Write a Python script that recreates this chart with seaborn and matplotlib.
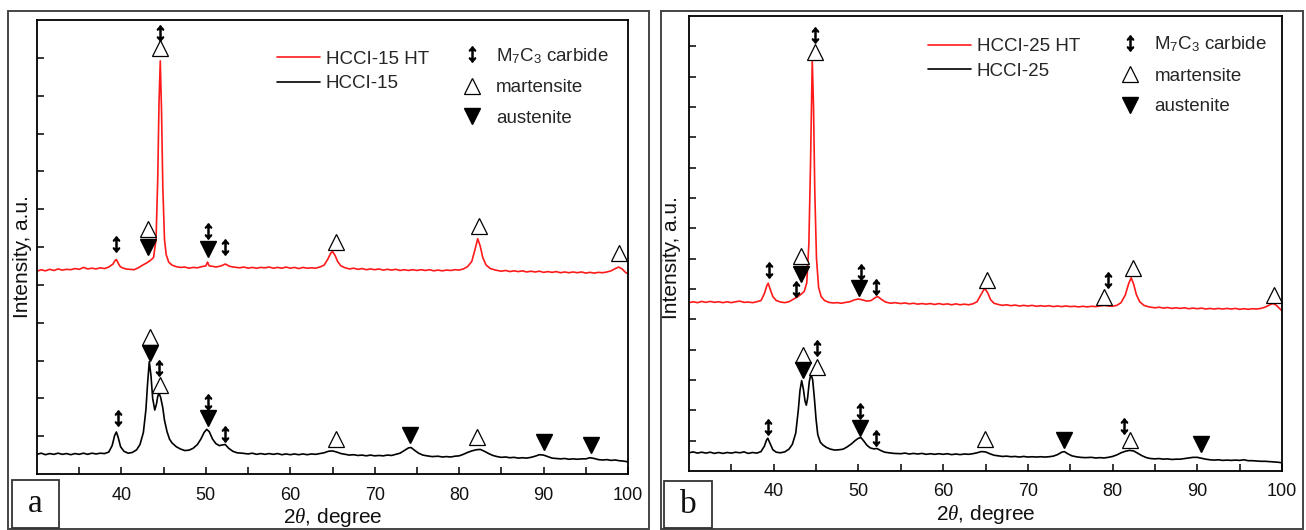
import matplotlib
matplotlib.use("Agg")
import matplotlib.pyplot as plt
import seaborn as sns
import pandas as pd
from matplotlib.lines import Line2D
from matplotlib.patches import Rectangle

# ---------------- data ----------------
a_ht_x = [30, 30.5, 31, 31.5, 32, 32.5, 33, 33.5, 34, 34.5, 35, 35.5, 36, 36.5, 37, 37.5, 38, 38.5,
          39.0, 39.2, 39.4, 39.6, 39.8, 40.0, 40.5, 41.0, 41.5, 42.0, 42.5, 43.0, 43.4, 43.8, 44.1,
          44.3, 44.45, 44.6, 44.75, 44.9, 45.1, 45.3, 45.6, 46.0, 46.5, 47, 47.5, 48, 48.5, 49, 49.5,
          50.0, 50.2, 50.4, 50.8, 51.2, 51.8, 52.3, 52.8, 53.3, 54, 54.5, 55, 55.5, 56, 56.5, 57, 57.5,
          58, 58.5, 59, 59.5, 60, 60.5, 61, 61.5, 62, 62.5, 63, 63.5, 64.0, 64.4, 64.8, 65.0, 65.3,
          65.6, 66.0, 66.5, 67, 67.5, 68, 68.5, 69, 69.5, 70, 70.5, 71, 71.5, 72, 72.5, 73, 73.5, 74,
          74.5, 75, 75.5, 76, 76.5, 77, 77.5, 78, 78.5, 79, 79.5, 80, 80.5, 81.0, 81.5, 81.9, 82.2,
          82.5, 82.8, 83.2, 83.7, 84.3, 85, 85.5, 86, 86.5, 87, 87.5, 88, 88.5, 89, 89.5, 90, 90.5,
          91, 91.5, 92, 92.5, 93, 93.5, 94, 94.5, 95, 95.5, 96, 96.5, 97, 97.5, 98.0, 98.5, 98.9,
          99.3, 99.7, 100]
a_ht_y = [5.36, 5.40, 5.37, 5.41, 5.38, 5.42, 5.39, 5.41, 5.40, 5.43, 5.41, 5.46, 5.42, 5.44, 5.42,
          5.45, 5.43, 5.47, 5.55, 5.63, 5.67, 5.58, 5.50, 5.46, 5.42, 5.41, 5.40, 5.45, 5.52, 5.58,
          5.64, 5.72, 6.2, 7.8, 9.8, 10.92, 9.6, 7.6, 6.2, 5.8, 5.6, 5.52, 5.48, 5.46, 5.47, 5.44,
          5.46, 5.45, 5.48, 5.50, 5.60, 5.50, 5.49, 5.47, 5.50, 5.55, 5.49, 5.47, 5.45, 5.47, 5.44,
          5.46, 5.44, 5.46, 5.45, 5.47, 5.44, 5.46, 5.44, 5.47, 5.44, 5.46, 5.43, 5.46, 5.44, 5.45,
          5.44, 5.47, 5.52, 5.66, 5.84, 5.88, 5.78, 5.62, 5.50, 5.45, 5.42, 5.44, 5.41, 5.43, 5.40,
          5.42, 5.40, 5.42, 5.39, 5.41, 5.39, 5.41, 5.38, 5.40, 5.38, 5.40, 5.38, 5.40, 5.38, 5.40,
          5.37, 5.39, 5.37, 5.39, 5.38, 5.40, 5.39, 5.42, 5.48, 5.62, 5.95, 6.22, 6.02, 5.72, 5.52,
          5.43, 5.39, 5.36, 5.38, 5.35, 5.37, 5.35, 5.37, 5.34, 5.36, 5.34, 5.36, 5.33, 5.35, 5.33,
          5.35, 5.32, 5.34, 5.32, 5.34, 5.32, 5.34, 5.31, 5.33, 5.31, 5.33, 5.32, 5.34, 5.37, 5.43,
          5.47, 5.42, 5.33, 5.29]

a_as_x = [30, 30.5, 31, 31.5, 32, 32.5, 33, 33.5, 34, 34.5, 35, 35.5, 36, 36.5, 37, 37.5, 38, 38.5,
          38.9, 39.2, 39.4, 39.6, 39.9, 40.3, 40.8, 41.3, 41.8, 42.2, 42.6, 42.9, 43.1, 43.3, 43.5,
          43.7, 43.95, 44.15, 44.3, 44.45, 44.65, 44.9, 45.1, 45.4, 45.7, 46.0, 46.5, 47, 47.5, 48,
          48.5, 49.0, 49.4, 49.8, 50.1, 50.4, 50.8, 51.2, 51.6, 52.0, 52.3, 52.7, 53.2, 53.7, 54.3,
          55, 55.5, 56, 56.5, 57, 57.5, 58, 58.5, 59, 59.5, 60, 60.5, 61, 61.5, 62, 62.5, 63, 63.5,
          64, 64.5, 65, 65.5, 66, 66.5, 67, 67.5, 68, 68.5, 69, 69.5, 70, 70.5, 71, 71.5, 72, 72.5,
          73, 73.5, 74.0, 74.3, 74.7, 75.2, 75.7, 76.2, 76.8, 77.5, 78, 78.5, 79, 79.5, 80, 80.5,
          81, 81.5, 82, 82.5, 83, 83.5, 84, 84.5, 85, 85.5, 86, 86.5, 87, 87.5, 88, 88.5, 89, 89.5,
          90, 90.5, 91, 91.5, 92, 92.5, 93, 93.5, 94, 94.5, 95, 95.5, 96, 96.5, 97, 97.5, 98, 98.5,
          99, 99.5, 100]
a_as_y = [0.52, 0.55, 0.51, 0.54, 0.52, 0.55, 0.52, 0.54, 0.51, 0.54, 0.52, 0.55, 0.52, 0.55, 0.53,
          0.55, 0.54, 0.58, 0.75, 1.02, 1.11, 0.98, 0.72, 0.60, 0.55, 0.57, 0.64, 0.78, 1.1, 1.7,
          2.4, 2.97, 2.6, 2.0, 1.69, 1.85, 2.05, 2.14, 2.02, 1.75, 1.42, 1.12, 0.92, 0.82, 0.72, 0.66,
          0.62, 0.63, 0.68, 0.78, 0.92, 1.10, 1.18, 1.12, 0.92, 0.80, 0.75, 0.77, 0.78, 0.68, 0.60,
          0.56, 0.55, 0.53, 0.55, 0.52, 0.54, 0.52, 0.54, 0.52, 0.54, 0.51, 0.53, 0.51, 0.53, 0.51,
          0.53, 0.51, 0.53, 0.52, 0.54, 0.56, 0.60, 0.61, 0.58, 0.54, 0.52, 0.50, 0.51, 0.49, 0.50,
          0.48, 0.50, 0.48, 0.49, 0.48, 0.50, 0.49, 0.52, 0.55, 0.62, 0.69, 0.70, 0.63, 0.55, 0.50,
          0.48, 0.46, 0.47, 0.45, 0.46, 0.45, 0.47, 0.48, 0.52, 0.57, 0.61, 0.64, 0.65, 0.60, 0.54,
          0.49, 0.46, 0.44, 0.45, 0.43, 0.44, 0.42, 0.43, 0.42, 0.44, 0.47, 0.51, 0.50, 0.46, 0.42,
          0.41, 0.40, 0.41, 0.39, 0.40, 0.39, 0.40, 0.40, 0.43, 0.41, 0.38, 0.37, 0.38, 0.36, 0.37,
          0.35, 0.34, 0.32]

b_ht_x = [30, 30.5, 31, 31.5, 32, 32.5, 33, 33.5, 34, 34.5, 35, 35.5, 36, 36.5, 37, 37.5, 38, 38.5,
          38.9, 39.2, 39.35, 39.6, 39.9, 40.3, 40.8, 41.3, 41.8, 42.3, 42.8, 43.2, 43.6, 43.9, 44.15,
          44.35, 44.55, 44.7, 44.85, 45.05, 45.3, 45.6, 46.0, 46.5, 47, 47.5, 48, 48.5, 49, 49.5,
          50.0, 50.5, 51.0, 51.5, 52.0, 52.3, 52.7, 53.2, 53.8, 54.3, 55, 55.5, 56, 56.5, 57, 57.5,
          58, 58.5, 59, 59.5, 60, 60.5, 61, 61.5, 62, 62.5, 63, 63.5, 64.0, 64.4, 64.8, 65.0, 65.3,
          65.6, 66.0, 66.5, 67, 67.5, 68, 68.5, 69, 69.5, 70, 70.5, 71, 71.5, 72, 72.5, 73, 73.5, 74,
          74.5, 75, 75.5, 76, 76.5, 77, 77.5, 78, 78.5, 79, 79.5, 80, 80.5, 81.0, 81.5, 81.9, 82.2,
          82.5, 82.8, 83.2, 83.7, 84.3, 85, 85.5, 86, 86.5, 87, 87.5, 88, 88.5, 89, 89.5, 90, 90.5,
          91, 91.5, 92, 92.5, 93, 93.5, 94, 94.5, 95, 95.5, 96, 96.5, 97, 97.5, 98, 98.5, 98.9, 99.3,
          99.7, 100]
b_ht_y = [5.55, 5.58, 5.55, 5.59, 5.56, 5.59, 5.56, 5.58, 5.55, 5.58, 5.55, 5.58, 5.60, 5.56, 5.57,
          5.55, 5.58, 5.62, 5.85, 6.12, 6.19, 5.98, 5.75, 5.62, 5.57, 5.55, 5.58, 5.66, 5.74, 5.82,
          5.92, 6.2, 7.5, 10.2, 13.55, 12.0, 9.2, 7.0, 6.05, 5.75, 5.62, 5.56, 5.54, 5.55, 5.53,
          5.56, 5.58, 5.64, 5.67, 5.64, 5.60, 5.62, 5.72, 5.75, 5.66, 5.57, 5.53, 5.55, 5.52, 5.54,
          5.51, 5.53, 5.50, 5.52, 5.50, 5.52, 5.49, 5.52, 5.49, 5.51, 5.48, 5.51, 5.48, 5.50, 5.48,
          5.51, 5.58, 5.78, 5.98, 5.99, 5.85, 5.65, 5.53, 5.49, 5.46, 5.48, 5.45, 5.47, 5.44, 5.46,
          5.44, 5.46, 5.43, 5.45, 5.43, 5.45, 5.42, 5.44, 5.42, 5.44, 5.42, 5.43, 5.41, 5.43, 5.41,
          5.43, 5.42, 5.44, 5.46, 5.44, 5.43, 5.46, 5.55, 5.80, 6.18, 6.37, 6.15, 5.82, 5.58, 5.46,
          5.41, 5.38, 5.40, 5.37, 5.39, 5.36, 5.38, 5.36, 5.38, 5.35, 5.37, 5.35, 5.37, 5.34, 5.36,
          5.34, 5.36, 5.34, 5.36, 5.34, 5.36, 5.33, 5.35, 5.33, 5.35, 5.34, 5.36, 5.40, 5.47, 5.52,
          5.47, 5.36, 5.28]

b_as_x = [30, 30.5, 31, 31.5, 32, 32.5, 33, 33.5, 34, 34.5, 35, 35.5, 36, 36.5, 37, 37.5, 38, 38.5,
          38.9, 39.15, 39.3, 39.55, 39.9, 40.3, 40.8, 41.3, 41.8, 42.2, 42.6, 42.9, 43.1, 43.3, 43.5,
          43.7, 43.85, 44.0, 44.2, 44.4, 44.6, 44.8, 45.0, 45.2, 45.5, 45.8, 46.2, 46.7, 47.2, 47.7,
          48.2, 48.7, 49.2, 49.6, 50.0, 50.3, 50.6, 51.0, 51.4, 51.8, 52.2, 52.6, 53.1, 53.6, 54.2,
          55, 55.5, 56, 56.5, 57, 57.5, 58, 58.5, 59, 59.5, 60, 60.5, 61, 61.5, 62, 62.5, 63, 63.5,
          64, 64.5, 65, 65.5, 66, 66.5, 67, 67.5, 68, 68.5, 69, 69.5, 70, 70.5, 71, 71.5, 72, 72.5,
          73, 73.5, 74.0, 74.3, 74.7, 75.2, 75.7, 76.2, 76.8, 77.5, 78, 78.5, 79, 79.5, 80, 80.5,
          81, 81.5, 82, 82.5, 83, 83.5, 84, 84.5, 85, 85.5, 86, 86.5, 87, 87.5, 88, 88.5, 89, 89.5,
          90, 90.5, 91, 91.5, 92, 92.5, 93, 93.5, 94, 94.5, 95, 95.5, 96, 96.5, 97, 97.5, 98, 98.5,
          99, 99.5, 100]
b_as_y = [0.60, 0.63, 0.59, 0.62, 0.59, 0.62, 0.58, 0.61, 0.58, 0.61, 0.59, 0.62, 0.60, 0.63, 0.58,
          0.61, 0.59, 0.64, 0.82, 1.02, 1.08, 0.92, 0.70, 0.62, 0.60, 0.63, 0.72, 0.88, 1.25, 2.0,
          2.65, 2.98, 2.7, 2.3, 2.17, 2.4, 2.95, 3.2, 3.0, 2.4, 1.7, 1.2, 0.95, 0.86, 0.78, 0.72,
          0.69, 0.70, 0.72, 0.80, 0.90, 1.00, 1.08, 1.10, 1.0, 0.85, 0.76, 0.73, 0.74, 0.68, 0.62,
          0.60, 0.58, 0.57, 0.59, 0.56, 0.58, 0.56, 0.58, 0.55, 0.57, 0.55, 0.57, 0.55, 0.57, 0.54,
          0.56, 0.54, 0.56, 0.55, 0.57, 0.60, 0.64, 0.63, 0.57, 0.52, 0.50, 0.48, 0.49, 0.47, 0.48,
          0.46, 0.48, 0.46, 0.47, 0.46, 0.47, 0.46, 0.47, 0.49, 0.54, 0.62, 0.64, 0.57, 0.50, 0.47,
          0.45, 0.44, 0.45, 0.43, 0.44, 0.43, 0.45, 0.48, 0.53, 0.60, 0.65, 0.68, 0.66, 0.58, 0.50,
          0.44, 0.41, 0.40, 0.41, 0.39, 0.40, 0.38, 0.39, 0.39, 0.41, 0.43, 0.45, 0.45, 0.42, 0.39,
          0.37, 0.36, 0.37, 0.35, 0.36, 0.35, 0.36, 0.35, 0.37, 0.34, 0.34, 0.33, 0.32, 0.32, 0.31,
          0.30, 0.29, 0.27]

# phase markers (2theta, height on the intensity axis)
a_carbide_x = [39.4, 44.6, 50.3, 52.3, 39.6, 44.5, 50.3, 52.3]
a_carbide_y = [6.08, 11.65, 6.41, 6.01, 1.47, 2.79, 1.89, 1.05]
a_mart_x = [43.2, 44.6, 65.4, 82.3, 98.9, 43.4, 44.6, 65.4, 82.1]
a_mart_y = [6.47, 11.26, 6.12, 6.56, 5.83, 3.61, 2.34, 0.93, 0.98]
a_aust_x = [43.2, 50.3, 43.4, 50.3, 74.2, 90.1, 95.6]
a_aust_y = [5.99, 5.95, 3.19, 1.47, 1.02, 0.85, 0.77]

b_carbide_x = [39.4, 42.6, 44.9, 50.3, 52.1, 79.5, 39.3, 45.1, 50.2, 52.1, 81.4]
b_carbide_y = [6.64, 6.0, 14.38, 6.56, 6.08, 6.30, 1.45, 4.05, 1.98, 1.08, 1.50]
b_mart_x = [43.2, 44.9, 65.2, 79.0, 82.4, 99.0, 43.4, 45.1, 64.9, 82.0]
b_mart_y = [7.10, 13.8, 6.30, 5.74, 6.69, 5.80, 3.82, 3.43, 1.06, 1.03]
b_aust_x = [43.2, 50.1, 43.4, 50.2, 74.3, 90.4]
b_aust_y = [6.48, 6.02, 3.32, 1.42, 1.03, 0.89]

x_ticks = [40, 50, 60, 70, 80, 90, 100]
x_tick_labels = ["40", "50", "60", "70", "80", "90", "100"]
series_a = ["HCCI-15 HT", "HCCI-15"]
series_b = ["HCCI-25 HT", "HCCI-25"]
phase_labels = ["M$_7$C$_3$ carbide", "martensite", "austenite"]

# ---------------- style ----------------
sns.set_theme(style="ticks")
plt.rcParams["font.family"] = ["Liberation Sans", "DejaVu Sans"]
plt.rcParams["mathtext.fontset"] = "custom"
plt.rcParams["mathtext.rm"] = "Liberation Sans"
plt.rcParams["mathtext.it"] = "Liberation Serif:italic"
plt.rcParams["mathtext.bf"] = "Liberation Sans:bold"

W, H = 1306, 530
fig = plt.figure(figsize=(W / 100, H / 100), dpi=100)
fig.patch.set_facecolor("white")

RED = "#ff1a1a"
ARROW = r"$\updownarrow$"


def px_rect(x0, y0, x1, y1):
    return [x0 / W, 1 - y1 / H, (x1 - x0) / W, (y1 - y0) / H]


def panel(rect, ylim_top, ht_x, ht_y, as_x, as_y, cx, cy, mx, my, ax_, ay_, names,
          leg1_anchor, leg2_anchor, ylab_xy, letter, box):
    ax = fig.add_axes(px_rect(*rect))
    df_ht = pd.DataFrame({"x": ht_x, "y": ht_y})
    df_as = pd.DataFrame({"x": as_x, "y": as_y})
    sns.lineplot(data=df_ht, x="x", y="y", ax=ax, color=RED, lw=1.2, sort=False, estimator=None)
    sns.lineplot(data=df_as, x="x", y="y", ax=ax, color="black", lw=1.2, sort=False, estimator=None)
    ax.plot(cx, cy, ls="none", marker=ARROW, ms=11, color="black")
    ax.plot(mx, my, ls="none", marker="^", ms=11, mfc="white", mec="black", mew=0.9)
    ax.plot(ax_, ay_, ls="none", marker="v", ms=11, color="black")

    ax.set_xlim(30, 100)
    ax.set_ylim(0, ylim_top)
    ax.set_xticks(x_ticks)
    ax.set_xticklabels(x_tick_labels)
    ax.set_xticks([35, 45, 55, 65, 75, 85, 95], minor=True)
    ax.set_yticks(list(range(1, ylim_top)))
    ax.set_yticklabels([])
    ax.tick_params(axis="both", which="both", direction="in", length=5, width=1.1,
                   color="black", top=False, right=False)
    ax.tick_params(axis="x", which="major", labelsize=13, pad=9, labelcolor="#111111")
    for s in ax.spines.values():
        s.set_linewidth(1.3)
        s.set_color("black")
    ax.set_xlabel(r"2$\theta$, degree", fontsize=15, labelpad=2, color="#111111")
    ax.set_ylabel("Intensity, a.u.", fontsize=15, color="#111111")
    ax.yaxis.set_label_coords(*ylab_xy)

    h1 = [Line2D([], [], color=RED, lw=1.2), Line2D([], [], color="black", lw=1.2)]
    leg1 = ax.legend(h1, names, loc="upper left", bbox_to_anchor=leg1_anchor, frameon=False,
                     fontsize=13.5, handlelength=2.3, handletextpad=0.3, labelspacing=0.38,
                     borderpad=0, borderaxespad=0)
    ax.add_artist(leg1)
    h2 = [Line2D([], [], ls="none", marker=ARROW, ms=11, color="black"),
          Line2D([], [], ls="none", marker="^", ms=11, mfc="white", mec="black", mew=0.9),
          Line2D([], [], ls="none", marker="v", ms=11, color="black")]
    ax.legend(h2, phase_labels, loc="upper left", bbox_to_anchor=leg2_anchor, frameon=False,
              fontsize=13.5, handlelength=1.0, handletextpad=0.8, labelspacing=0.72,
              borderpad=0, borderaxespad=0)

    bx0, by0, bx1, by1 = box
    fig.patches.append(Rectangle((bx0 / W, 1 - by1 / H), (bx1 - bx0) / W, (by1 - by0) / H,
                                 transform=fig.transFigure, fill=False, lw=1.3, ec="#333333"))
    fig.text((bx0 + bx1) / 2 / W, 1 - (by0 + by1) / 2 / H, letter, ha="center", va="center",
             fontsize=24, family="Liberation Serif", color="#111111")
    return ax


# outer frames
for x0, x1 in [(8, 649), (661, 1303)]:
    fig.patches.append(Rectangle((x0 / W, 1 / H), (x1 - x0) / W, (529 - 11) / H,
                                 transform=fig.transFigure, fill=False, lw=1.4, ec="#444444"))

panel((37, 20, 628, 474), 12, a_ht_x, a_ht_y, a_as_x, a_as_y,
      a_carbide_x, a_carbide_y, a_mart_x, a_mart_y, a_aust_x, a_aust_y, series_a,
      (0.406, 0.932), (0.72, 0.943), (-0.008, 0.48), "a", (12, 480, 59, 528))
panel((689, 16, 1282, 471), 15, b_ht_x, b_ht_y, b_as_x, b_as_y,
      b_carbide_x, b_carbide_y, b_mart_x, b_mart_y, b_aust_x, b_aust_y, series_b,
      (0.403, 0.951), (0.728, 0.960), (-0.0135, 0.468), "b", (664, 481, 712, 528))

fig.savefig("out.png", dpi=100, facecolor="white")
